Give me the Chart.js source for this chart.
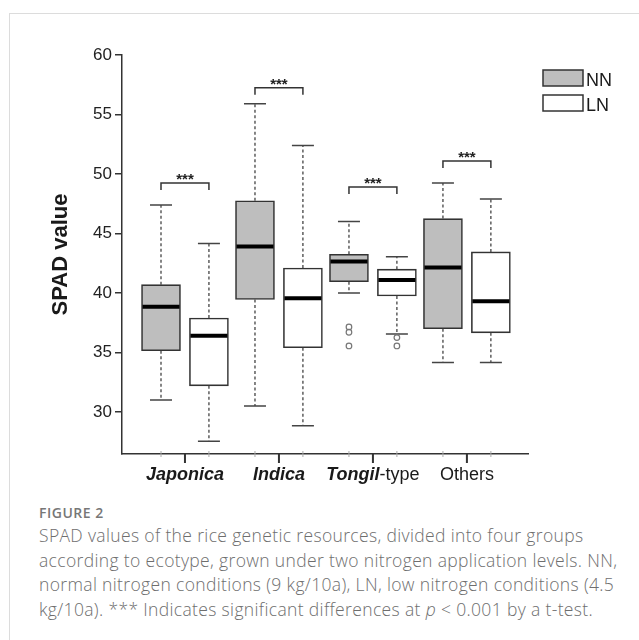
<!doctype html>
<html>
<head>
  <title>SPAD box plot</title>
  <script src="https://cdn.jsdelivr.net/npm/chart.js@4/dist/chart.umd.min.js"></script>
  <style>
  body { margin: 0; background: #fff; }
  #frame {
    position: absolute; left: 9px; top: 13px; width: 700px; height: 700px;
    border-left: 1.5px solid #dcdcdc; border-top: 1.5px solid #dcdcdc;
  }
  #chart { position: absolute; left: 0; top: 0; }
  #caption {
    position: absolute; left: 39px; top: 503px; width: 592px;
    font-family: "Open Sans", sans-serif; color: #6e6e6e;
  }
  #caption .fig { font-size: 14px; font-weight: 600; color: #777; letter-spacing: 0.5px; line-height: 20px; }
  #caption .txt { font-size: 17.5px; letter-spacing: 0.35px; line-height: 24.5px; font-weight: 300; }
  </style>
</head>
<body>
  <div id="frame"></div>
  <canvas id="chart" width="639" height="500"></canvas>
  <div id="caption">
    <div class="fig">FIGURE 2</div>
    <div class="txt">SPAD values of the rice genetic resources, divided into four groups according to ecotype, grown under two nitrogen application levels. NN, normal nitrogen conditions (9 kg/10a), LN, low nitrogen conditions (4.5 kg/10a). *** Indicates significant differences at <i>p</i> &lt; 0.001 by a t-test.</div>
  </div>
  <script>
  var categories = ['Japonica', 'Indica', 'Tongil-type', 'Others'];

  // NN (normal nitrogen)
  var nnMin    = [31.0, 30.5, 40.0, 34.15];
  var nnQ1     = [35.15, 39.45, 40.95, 37.0];
  var nnMedian = [38.85, 43.9, 42.65, 42.15];
  var nnQ3     = [40.7, 47.75, 43.25, 46.25];
  var nnMax    = [47.4, 55.9, 46.0, 49.25];
  var nnOutliers = [[], [], [37.15, 36.7, 35.55], []];

  // LN (low nitrogen)
  var lnMin    = [27.55, 28.85, 36.55, 34.15];
  var lnQ1     = [32.2, 35.4, 39.75, 36.65];
  var lnMedian = [36.4, 39.55, 41.1, 39.3];
  var lnQ3     = [37.9, 42.1, 42.0, 43.45];
  var lnMax    = [44.15, 52.4, 43.05, 47.9];
  var lnOutliers = [[], [], [36.25, 35.55], []];

  // height of the *** brackets
  var sigLevel = [49.25, 57.25, 48.9, 51.1];
  var sigLabel = ['***', '***', '***', '***'];

  var yTicks = [30, 35, 40, 45, 50, 55, 60];
  var shift = 0.255;

  var groups = [
    {label: 'NN', fill: '#bebebe', off: -shift, min: nnMin, q1: nnQ1, med: nnMedian, q3: nnQ3, max: nnMax, out: nnOutliers},
    {label: 'LN', fill: '#ffffff', off: shift, min: lnMin, q1: lnQ1, med: lnMedian, q3: lnQ3, max: lnMax, out: lnOutliers}
  ];

  var datasets = groups.map(function(g) {
    return {
      label: g.label,
      data: categories.map(function(c, i) { return {x: i + g.off, y: [g.q1[i], g.q3[i]]}; }),
      backgroundColor: g.fill,
      borderColor: '#333',
      borderWidth: 1.6,
      borderSkipped: false,
      barThickness: 39,
      grouped: false
    };
  });

  var boxExtras = {
    id: 'boxExtras',
    afterDatasetsDraw: function(chart) {
      var ctx = chart.ctx, xs = chart.scales.x, ys = chart.scales.y;
      var bottom = chart.chartArea.bottom;
      ctx.save();
      groups.forEach(function(g) {
        categories.forEach(function(c, i) {
          var cx = xs.getPixelForValue(i + g.off);
          var half = 19.5, cap = 11;
          // whiskers
          ctx.strokeStyle = '#444';
          ctx.lineWidth = 1.3;
          ctx.setLineDash([3, 2.5]);
          ctx.beginPath();
          ctx.moveTo(cx, ys.getPixelForValue(g.q3[i]));
          ctx.lineTo(cx, ys.getPixelForValue(g.max[i]));
          ctx.moveTo(cx, ys.getPixelForValue(g.q1[i]));
          ctx.lineTo(cx, ys.getPixelForValue(g.min[i]));
          ctx.stroke();
          ctx.setLineDash([]);
          ctx.lineWidth = 1.5;
          ctx.beginPath();
          [g.max[i], g.min[i]].forEach(function(v) {
            var py = ys.getPixelForValue(v);
            ctx.moveTo(cx - cap, py);
            ctx.lineTo(cx + cap, py);
          });
          ctx.stroke();
          // median
          ctx.strokeStyle = '#000';
          ctx.lineWidth = 4;
          ctx.beginPath();
          var my = ys.getPixelForValue(g.med[i]);
          ctx.moveTo(cx - half + 1, my);
          ctx.lineTo(cx + half - 1, my);
          ctx.stroke();
          // outliers
          ctx.strokeStyle = '#777';
          ctx.lineWidth = 1.2;
          g.out[i].forEach(function(v) {
            ctx.beginPath();
            ctx.arc(cx, ys.getPixelForValue(v), 2.8, 0, Math.PI * 2);
            ctx.stroke();
          });
          // faint mark on the x axis under each box
          ctx.strokeStyle = '#aaa';
          ctx.lineWidth = 1;
          ctx.beginPath();
          ctx.moveTo(cx, bottom - 3);
          ctx.lineTo(cx, bottom + 3);
          ctx.stroke();
        });
      });

      // significance brackets
      categories.forEach(function(c, i) {
        var x1 = xs.getPixelForValue(i - shift);
        var x2 = xs.getPixelForValue(i + shift);
        var by = ys.getPixelForValue(sigLevel[i]);
        ctx.strokeStyle = '#333';
        ctx.lineWidth = 1.5;
        ctx.beginPath();
        ctx.moveTo(x1, by + 7);
        ctx.lineTo(x1, by);
        ctx.lineTo(x2, by);
        ctx.lineTo(x2, by + 7);
        ctx.stroke();
        ctx.fillStyle = '#222';
        ctx.font = 'bold 15px "Liberation Sans", Arial, sans-serif';
        ctx.textAlign = 'center';
        ctx.textBaseline = 'alphabetic';
        ctx.fillText(sigLabel[i], (x1 + x2) / 2, by + 1);
      });

      // category labels
      var ly = bottom + 26;
      ctx.fillStyle = '#1a1a1a';
      ctx.textBaseline = 'alphabetic';
      categories.forEach(function(c, i) {
        var px = xs.getPixelForValue(i);
        var parts;
        if (c === 'Tongil-type') {
          parts = [['bold italic 18px "Liberation Sans", Arial', 'Tongil'], ['18px "Liberation Sans", Arial', '-type']];
        } else if (c === 'Others') {
          parts = [['18px "Liberation Sans", Arial', 'Others']];
        } else {
          parts = [['bold italic 18px "Liberation Sans", Arial', c]];
        }
        var total = 0;
        parts.forEach(function(p) { ctx.font = p[0]; total += ctx.measureText(p[1]).width; });
        var sx = px - total / 2;
        ctx.textAlign = 'left';
        parts.forEach(function(p) {
          ctx.font = p[0];
          ctx.fillText(p[1], sx, ly);
          sx += ctx.measureText(p[1]).width;
        });
      });

      // legend
      groups.forEach(function(g, k) {
        var top = 70 + k * 25;
        ctx.fillStyle = g.fill;
        ctx.fillRect(543, top, 40, 16);
        ctx.strokeStyle = '#333';
        ctx.lineWidth = 1.5;
        ctx.strokeRect(543, top, 40, 16);
        ctx.fillStyle = '#1a1a1a';
        ctx.font = '18px "Liberation Sans", Arial';
        ctx.textAlign = 'left';
        ctx.fillText(g.label, 586, top + 15.5);
      });
      ctx.restore();
    },
    afterDraw: function(chart) {
      // category tick marks below the x axis
      var ctx = chart.ctx, xs = chart.scales.x, bottom = chart.chartArea.bottom;
      ctx.save();
      ctx.strokeStyle = '#333';
      ctx.lineWidth = 2;
      ctx.beginPath();
      categories.forEach(function(c, i) {
        var px = xs.getPixelForValue(i);
        ctx.moveTo(px, bottom);
        ctx.lineTo(px, bottom + 9);
      });
      ctx.stroke();
      ctx.restore();
    }
  };

  new Chart(document.getElementById('chart').getContext('2d'), {
    type: 'bar',
    data: {datasets: datasets},
    options: {
      responsive: false,
      animation: false,
      layout: {padding: {left: 44, right: 111, top: 55, bottom: 6}},
      plugins: {legend: {display: false}, tooltip: {enabled: false}},
      scales: {
        x: {
          type: 'linear',
          offset: false,
          min: -0.67,
          max: 3.65,
          afterBuildTicks: function(scale) {
            scale.ticks = categories.map(function(c, i) { return {value: i}; });
          },
          afterFit: function(scale) { scale.height = 40; },
          ticks: {display: false},
          grid: {display: false},
          border: {display: true, color: '#333', width: 1.5}
        },
        y: {
          min: 26.47,
          max: 60,
          afterBuildTicks: function(scale) {
            scale.ticks = yTicks.map(function(v) { return {value: v}; });
          },
          afterFit: function(scale) { scale.width = 78; },
          ticks: {
            color: '#222',
            padding: 3,
            font: {family: '"Liberation Sans", Arial, sans-serif', size: 17}
          },
          title: {
            display: true,
            text: 'SPAD value',
            color: '#1a1a1a',
            padding: {top: 4, bottom: 0},
            font: {family: '"Liberation Sans", Arial, sans-serif', size: 22, weight: 'bold'}
          },
          grid: {drawOnChartArea: false, drawTicks: true, tickLength: 7, color: '#333', lineWidth: 1.5},
          border: {display: true, color: '#333', width: 1.5}
        }
      }
    },
    plugins: [boxExtras]
  });
  </script>
</body>
</html>
